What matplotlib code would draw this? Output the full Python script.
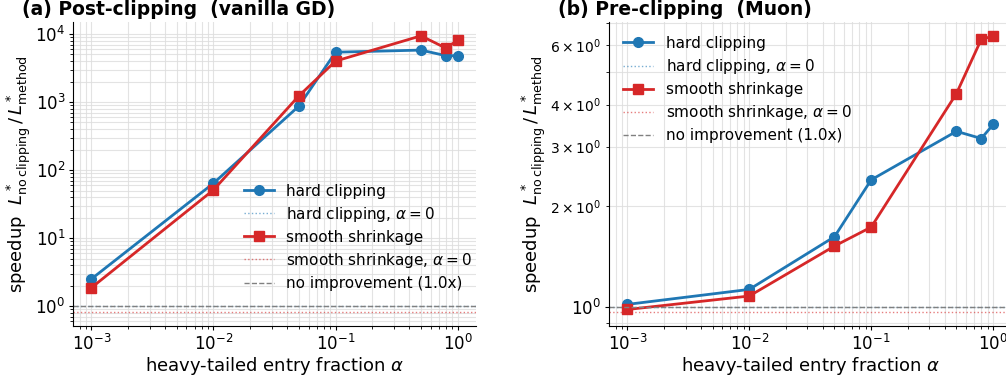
import matplotlib
matplotlib.use("Agg")
import matplotlib.pyplot as plt

alpha = [1e-3, 1e-2, 0.05, 0.1, 0.5, 0.8, 1.0]

# post-clipping (vanilla GD)
post_hard = [2.5, 64, 870, 5400, 5800, 4800, 4800]
post_smooth = [1.86, 51, 1230, 4000, 9400, 6200, 8100]
post_hard_a0 = 1.0
post_smooth_a0 = 0.82

# pre-clipping (Muon)
pre_hard = [1.02, 1.13, 1.62, 2.39, 3.33, 3.17, 3.49]
pre_smooth = [0.985, 1.08, 1.52, 1.73, 4.31, 6.25, 6.38]
pre_hard_a0 = 1.0
pre_smooth_a0 = 0.966

BLUE = "#1f77b4"
RED = "#d62728"

fig = plt.figure(figsize=(10.06, 3.81), dpi=100)
ax_a = fig.add_axes([0.0726, 0.1444, 0.4006, 0.7978])
ax_b = fig.add_axes([0.6054, 0.1444, 0.4000, 0.7978])


def draw(ax, hard, smooth, hard_a0, smooth_a0):
    ax.plot(alpha, hard, "-o", color=BLUE, lw=2, ms=7, label="hard clipping")
    ax.axhline(hard_a0, color=BLUE, ls=":", lw=1, alpha=0.6,
               label=r"hard clipping, $\alpha = 0$")
    ax.plot(alpha, smooth, "-s", color=RED, lw=2, ms=7, label="smooth shrinkage")
    ax.axhline(smooth_a0, color=RED, ls=":", lw=1, alpha=0.6,
               label=r"smooth shrinkage, $\alpha = 0$")
    ax.axhline(1.0, color="gray", ls="--", lw=1,
               label="no improvement (1.0x)")
    ax.set_xscale("log")
    ax.set_yscale("log")
    ax.grid(True, which="both", color="#dddddd", lw=0.8, alpha=0.8)
    ax.spines["top"].set_visible(False)
    ax.spines["right"].set_visible(False)
    ax.tick_params(labelsize=12, length=3, pad=2.5)
    ax.tick_params(which="minor", length=2)
    ax.set_xlabel(r"heavy-tailed entry fraction $\alpha$", fontsize=13, labelpad=1)
    ax.set_ylabel(r"speedup  $L^*_{\rm no\,clipping}\,/\,L^*_{\rm method}$",
                  fontsize=13, labelpad=2)


draw(ax_a, post_hard, post_smooth, post_hard_a0, post_smooth_a0)
ax_a.set_ylim(0.51, 1.5e4)
ax_a.set_title("(a) Post-clipping  (vanilla GD)", fontsize=13.5, fontweight="bold",
               loc="left", x=-0.127, pad=5)
ax_a.legend(loc="lower right", bbox_to_anchor=(1.025, 0.07), frameon=False,
            fontsize=11, labelspacing=0.4)

draw(ax_b, pre_hard, pre_smooth, pre_hard_a0, pre_smooth_a0)
ax_b.set_ylim(0.88, 7.03)
ax_b.set_title("(b) Pre-clipping  (Muon)", fontsize=13.5, fontweight="bold",
               loc="left", x=-0.128, pad=5)
ax_b.legend(loc="upper left", frameon=False, fontsize=11, labelspacing=0.4)

fig.savefig("out.png", dpi=100)
